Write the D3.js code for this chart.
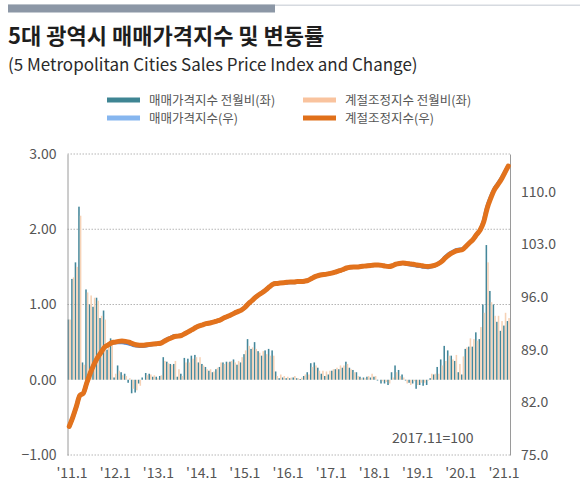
<!DOCTYPE html>
<html>
<head>
<meta charset="utf-8">
<script src="https://cdn.jsdelivr.net/npm/d3@7"></script>
<style>
  body { margin: 0; background: #fff; }
  text { font-family: "Noto Sans CJK KR", "Noto Sans", sans-serif; }
</style>
</head>
<body>
<div id="chart"></div>
<script>
// monthly categories 2011.01 - 2021.06
const years = d3.range(2011, 2022)
const months = []
years.forEach(y => d3.range(1, 13).forEach(m => { if (y < 2021 || m <= 6) months.push(y + '.' + m) }))

const tickLabels = ["'11.1", "'12.1", "'13.1", "'14.1", "'15.1", "'16.1", "'17.1", "'18.1", "'19.1", "'20.1", "'21.1"]
const leftTicks = [-1, 0, 1, 2, 3]
const rightTicks = [75, 82, 89, 96, 103, 110]

// 매매가격지수 전월비 (%)
const momRaw = [0.80, 1.34, 1.56, 2.30, 0.23, 1.20, 1.00, 0.97, 1.09, 0.82, 0.92, 0.40,
  0.55, 0.03, 0.19, 0.10, 0.08, -0.04, -0.18, -0.17, -0.05, 0.03, 0.09, 0.08,
  0.04, 0.04, 0.05, 0.30, 0.24, 0.21, 0.21, 0.04, 0.08, 0.29, 0.28, 0.32,
  0.33, 0.23, 0.21, 0.17, 0.12, 0.10, 0.14, 0.17, 0.23, 0.24, 0.24, 0.27,
  0.20, 0.23, 0.34, 0.54, 0.41, 0.50, 0.38, 0.32, 0.39, 0.41, 0.39, 0.11,
  0.02, 0.03, 0.02, 0.02, 0.03, 0.02, 0.01, 0.05, 0.10, 0.22, 0.23, 0.16,
  0.08, 0.05, 0.07, 0.12, 0.14, 0.14, 0.16, 0.24, 0.16, 0.13, 0.10, 0.04,
  0.03, 0.04, 0.03, 0.04, -0.01, -0.05, -0.05, -0.07, 0.10, 0.19, 0.13, 0.07,
  -0.01, -0.04, -0.05, -0.12, -0.07, -0.08, -0.07, 0.02, 0.07, 0.17, 0.27, 0.45,
  0.39, 0.32, 0.25, 0.10, 0.07, 0.41, 0.44, 0.44, 0.63, 0.54, 1.00, 1.79,
  1.18, 1.00, 0.77, 0.65, 0.72, 0.78]

// 계절조정지수 전월비 (%)
const momSa = [0.80, 1.36, 1.50, 2.18, 0.20, 1.16, 1.12, 1.09, 1.05, 0.85, 0.80, 0.45,
  0.50, 0.08, 0.12, 0.06, 0.05, 0.02, -0.12, -0.14, -0.08, 0.00, 0.06, 0.07,
  0.06, 0.02, 0.06, 0.25, 0.22, 0.20, 0.25, 0.14, 0.05, 0.23, 0.23, 0.28,
  0.30, 0.30, 0.19, 0.14, 0.14, 0.11, 0.16, 0.23, 0.21, 0.23, 0.25, 0.23,
  0.25, 0.30, 0.39, 0.45, 0.43, 0.41, 0.36, 0.38, 0.34, 0.32, 0.32, 0.05,
  0.07, 0.05, 0.04, 0.03, 0.05, 0.02, 0.03, 0.07, 0.07, 0.17, 0.19, 0.12,
  0.12, 0.11, 0.12, 0.14, 0.16, 0.19, 0.19, 0.21, 0.14, 0.10, 0.05, 0.02,
  0.02, 0.05, 0.08, 0.05, 0.00, -0.02, -0.03, -0.05, 0.03, 0.10, 0.05, 0.03,
  -0.05, -0.07, -0.02, -0.07, -0.04, -0.04, -0.01, 0.08, 0.08, 0.08, 0.19, 0.25,
  0.32, 0.27, 0.33, 0.21, 0.31, 0.43, 0.55, 0.54, 0.52, 0.70, 0.89, 1.56,
  1.03, 0.85, 0.85, 0.78, 0.89, 0.82]

// 매매가격지수 (2017.11=100)
const idxRaw = [78.8, 80.0, 81.4, 82.9, 83.2, 84.6, 85.9, 87.0, 87.9, 88.6, 89.3, 89.6,
  89.9, 89.95, 90.0, 90.0, 89.9, 89.8, 89.65, 89.55, 89.5, 89.5, 89.55, 89.65,
  89.75, 89.8, 89.85, 90.15, 90.4, 90.6, 90.8, 90.8, 90.9, 91.15, 91.4, 91.65,
  91.95, 92.15, 92.3, 92.45, 92.55, 92.65, 92.8, 92.95, 93.2, 93.4, 93.6, 93.85,
  94.05, 94.25, 94.6, 95.1, 95.5, 95.95, 96.3, 96.6, 96.95, 97.35, 97.7, 97.85,
  97.85, 97.85, 97.9, 97.95, 97.95, 98.0, 98.05, 98.1, 98.2, 98.45, 98.7, 98.85,
  98.95, 99.0, 99.1, 99.2, 99.35, 99.5, 99.65, 99.85, 99.95, 100.0, 100.0, 100.05,
  100.1, 100.15, 100.2, 100.25, 100.25, 100.2, 100.1, 100.05, 100.15, 100.35, 100.45, 100.5,
  100.4, 100.3, 100.25, 100.15, 100.1, 100.0, 99.95, 100.05, 100.15, 100.4, 100.75, 101.25,
  101.65, 101.95, 102.2, 102.3, 102.35, 102.75, 103.2, 103.65, 104.3, 104.9, 106.05, 107.95,
  109.25, 110.3, 111.0, 111.7, 112.55, 113.4]

// 계절조정지수 (2017.11=100)
const idxSa = [78.8, 80.0, 81.4, 82.9, 83.2, 84.6, 85.9, 87.0, 87.9, 88.6, 89.3, 89.6,
  89.9, 90.0, 90.1, 90.15, 90.1, 90.0, 89.8, 89.65, 89.6, 89.6, 89.65, 89.7,
  89.75, 89.8, 89.85, 90.1, 90.35, 90.55, 90.75, 90.8, 90.9, 91.15, 91.4, 91.65,
  91.95, 92.15, 92.3, 92.45, 92.55, 92.65, 92.8, 92.95, 93.2, 93.4, 93.6, 93.85,
  94.05, 94.25, 94.6, 95.1, 95.5, 95.95, 96.3, 96.6, 96.95, 97.35, 97.7, 97.8,
  97.85, 97.9, 97.95, 98.0, 98.0, 98.05, 98.05, 98.1, 98.2, 98.45, 98.7, 98.85,
  98.95, 99.0, 99.1, 99.2, 99.35, 99.5, 99.65, 99.85, 99.95, 100.0, 100.0, 100.05,
  100.1, 100.15, 100.2, 100.25, 100.25, 100.2, 100.1, 100.05, 100.15, 100.35, 100.45, 100.5,
  100.45, 100.4, 100.35, 100.25, 100.2, 100.1, 100.05, 100.1, 100.2, 100.4, 100.7, 101.15,
  101.55, 101.85, 102.1, 102.2, 102.3, 102.75, 103.2, 103.65, 104.3, 104.9, 105.95, 107.8,
  109.1, 110.2, 110.9, 111.6, 112.5, 113.4]

const W = 580, H = 495
const margin = ({top: 154, bottom: 40, left: 67.5, right: 70})

const svg = d3.select('#chart')
  .append('svg')
  .attr('width', W)
  .attr('height', H)

// header decoration
svg.append('rect').attr('x', 8).attr('y', 4.5).attr('width', W - 8).attr('height', 1.5).attr('fill', '#d6dae0')
svg.append('rect').attr('x', 8).attr('y', 4.5).attr('width', 267).attr('height', 8).attr('fill', '#8c97a6')

svg.append('text')
  .attr('x', 8).attr('y', 44)
  .attr('font-size', 22).attr('font-weight', 700).attr('fill', '#1e1e1e')
  .text('5대 광역시 매매가격지수 및 변동률')

svg.append('text')
  .attr('x', 8).attr('y', 70.5)
  .attr('font-size', 17).attr('fill', '#2a2a2a')
  .text('(5 Metropolitan Cities Sales Price Index and Change)')

// scales
const x = d3.scaleBand()
  .domain(months)
  .range([margin.left, W - margin.right])
  .paddingInner(0)

const sub = d3.scaleBand()
  .domain(['raw', 'sa'])
  .range([0, x.bandwidth()])
  .paddingInner(0.05)
  .paddingOuter(0.1)

const yL = d3.scaleLinear().domain([-1, 3]).range([455, margin.top])
const yR = d3.scaleLinear().domain([75, 115]).range([455, margin.top])

const xLab = d3.scalePoint().domain(tickLabels).range([71.5, 503.5])

// gridlines (dotted)
svg.append('g')
  .selectAll('line')
  .data([-1, 1, 2, 3])
  .enter()
  .append('line')
  .attr('x1', margin.left).attr('x2', W - margin.right)
  .attr('y1', d => yL(d)).attr('y2', d => yL(d))
  .attr('stroke', '#b5b5b5')
  .attr('stroke-width', 1)
  .attr('stroke-dasharray', '1.5,1.5')

// bars
const bars = svg.append('g')
bars.selectAll('.bar-raw')
  .data(months)
  .enter()
  .append('rect')
  .attr('class', 'bar-raw')
  .attr('x', d => x(d) + sub('raw'))
  .attr('width', sub.bandwidth())
  .attr('y', (d, i) => yL(Math.max(0, momRaw[i])))
  .attr('height', (d, i) => Math.abs(yL(momRaw[i]) - yL(0)))
  .attr('fill', '#44879a')

bars.selectAll('.bar-sa')
  .data(months)
  .enter()
  .append('rect')
  .attr('class', 'bar-sa')
  .attr('x', d => x(d) + sub('sa'))
  .attr('width', sub.bandwidth())
  .attr('y', (d, i) => yL(Math.max(0, momSa[i])))
  .attr('height', (d, i) => Math.abs(yL(momSa[i]) - yL(0)))
  .attr('fill', '#f6d2b6')

// axes
const axL = svg.append('g')
  .attr('transform', `translate(${margin.left},0)`)
  .call(d3.axisLeft(yL).tickValues(leftTicks).tickFormat(d3.format('.2f')).tickSize(0).tickPadding(11))
axL.select('.domain').attr('stroke', '#9a9a9a')

const axR = svg.append('g')
  .attr('transform', `translate(${W - margin.right},0)`)
  .call(d3.axisRight(yR).tickValues(rightTicks).tickFormat(d3.format('.1f')).tickSize(0).tickPadding(11))
axR.select('.domain').attr('stroke', '#9a9a9a')

const axB = svg.append('g')
  .attr('transform', `translate(0,460)`)
  .call(d3.axisBottom(xLab).tickSize(0).tickPadding(8))
axB.select('.domain').remove()

svg.selectAll('.tick text')
  .attr('font-family', '"Noto Sans CJK KR", "Noto Sans", sans-serif')
  .attr('font-size', 14)
  .attr('fill', '#555')

// index lines
const line = arr => d3.line()
  .x((d, i) => x(months[i]) + x.bandwidth() / 2)
  .y(d => yR(d))
  .curve(d3.curveMonotoneX)(arr)

svg.append('path')
  .attr('d', line(idxRaw))
  .attr('fill', 'none')
  .attr('stroke', '#4f86d6')
  .attr('stroke-width', 4)
  .attr('stroke-linecap', 'round')

svg.append('path')
  .attr('d', line(idxSa))
  .attr('fill', 'none')
  .attr('stroke', '#e2721c')
  .attr('stroke-width', 5)
  .attr('stroke-linecap', 'round')

svg.append('text')
  .attr('x', 392).attr('y', 443)
  .attr('font-size', 14).attr('fill', '#555')
  .text('2017.11=100')

// legend
const legend = [
  {name: '매매가격지수 전월비(좌)', color: '#3f8593', col: 0, row: 0},
  {name: '계절조정지수 전월비(좌)', color: '#f9c39e', col: 1, row: 0},
  {name: '매매가격지수(우)', color: '#86b6ef', col: 0, row: 1},
  {name: '계절조정지수(우)', color: '#e0701a', col: 1, row: 1}
]
const lg = svg.append('g')
  .selectAll('g')
  .data(legend)
  .enter()
  .append('g')
  .attr('transform', d => `translate(${107 + d.col * 196},${100 + d.row * 18})`)
lg.append('rect')
  .attr('x', 0).attr('y', -2.5)
  .attr('width', 33).attr('height', 5)
  .attr('fill', d => d.color)
lg.append('text')
  .attr('x', 42).attr('y', 4.5)
  .attr('font-size', 12.5).attr('fill', '#555')
  .text(d => d.name)
</script>
</body>
</html>
